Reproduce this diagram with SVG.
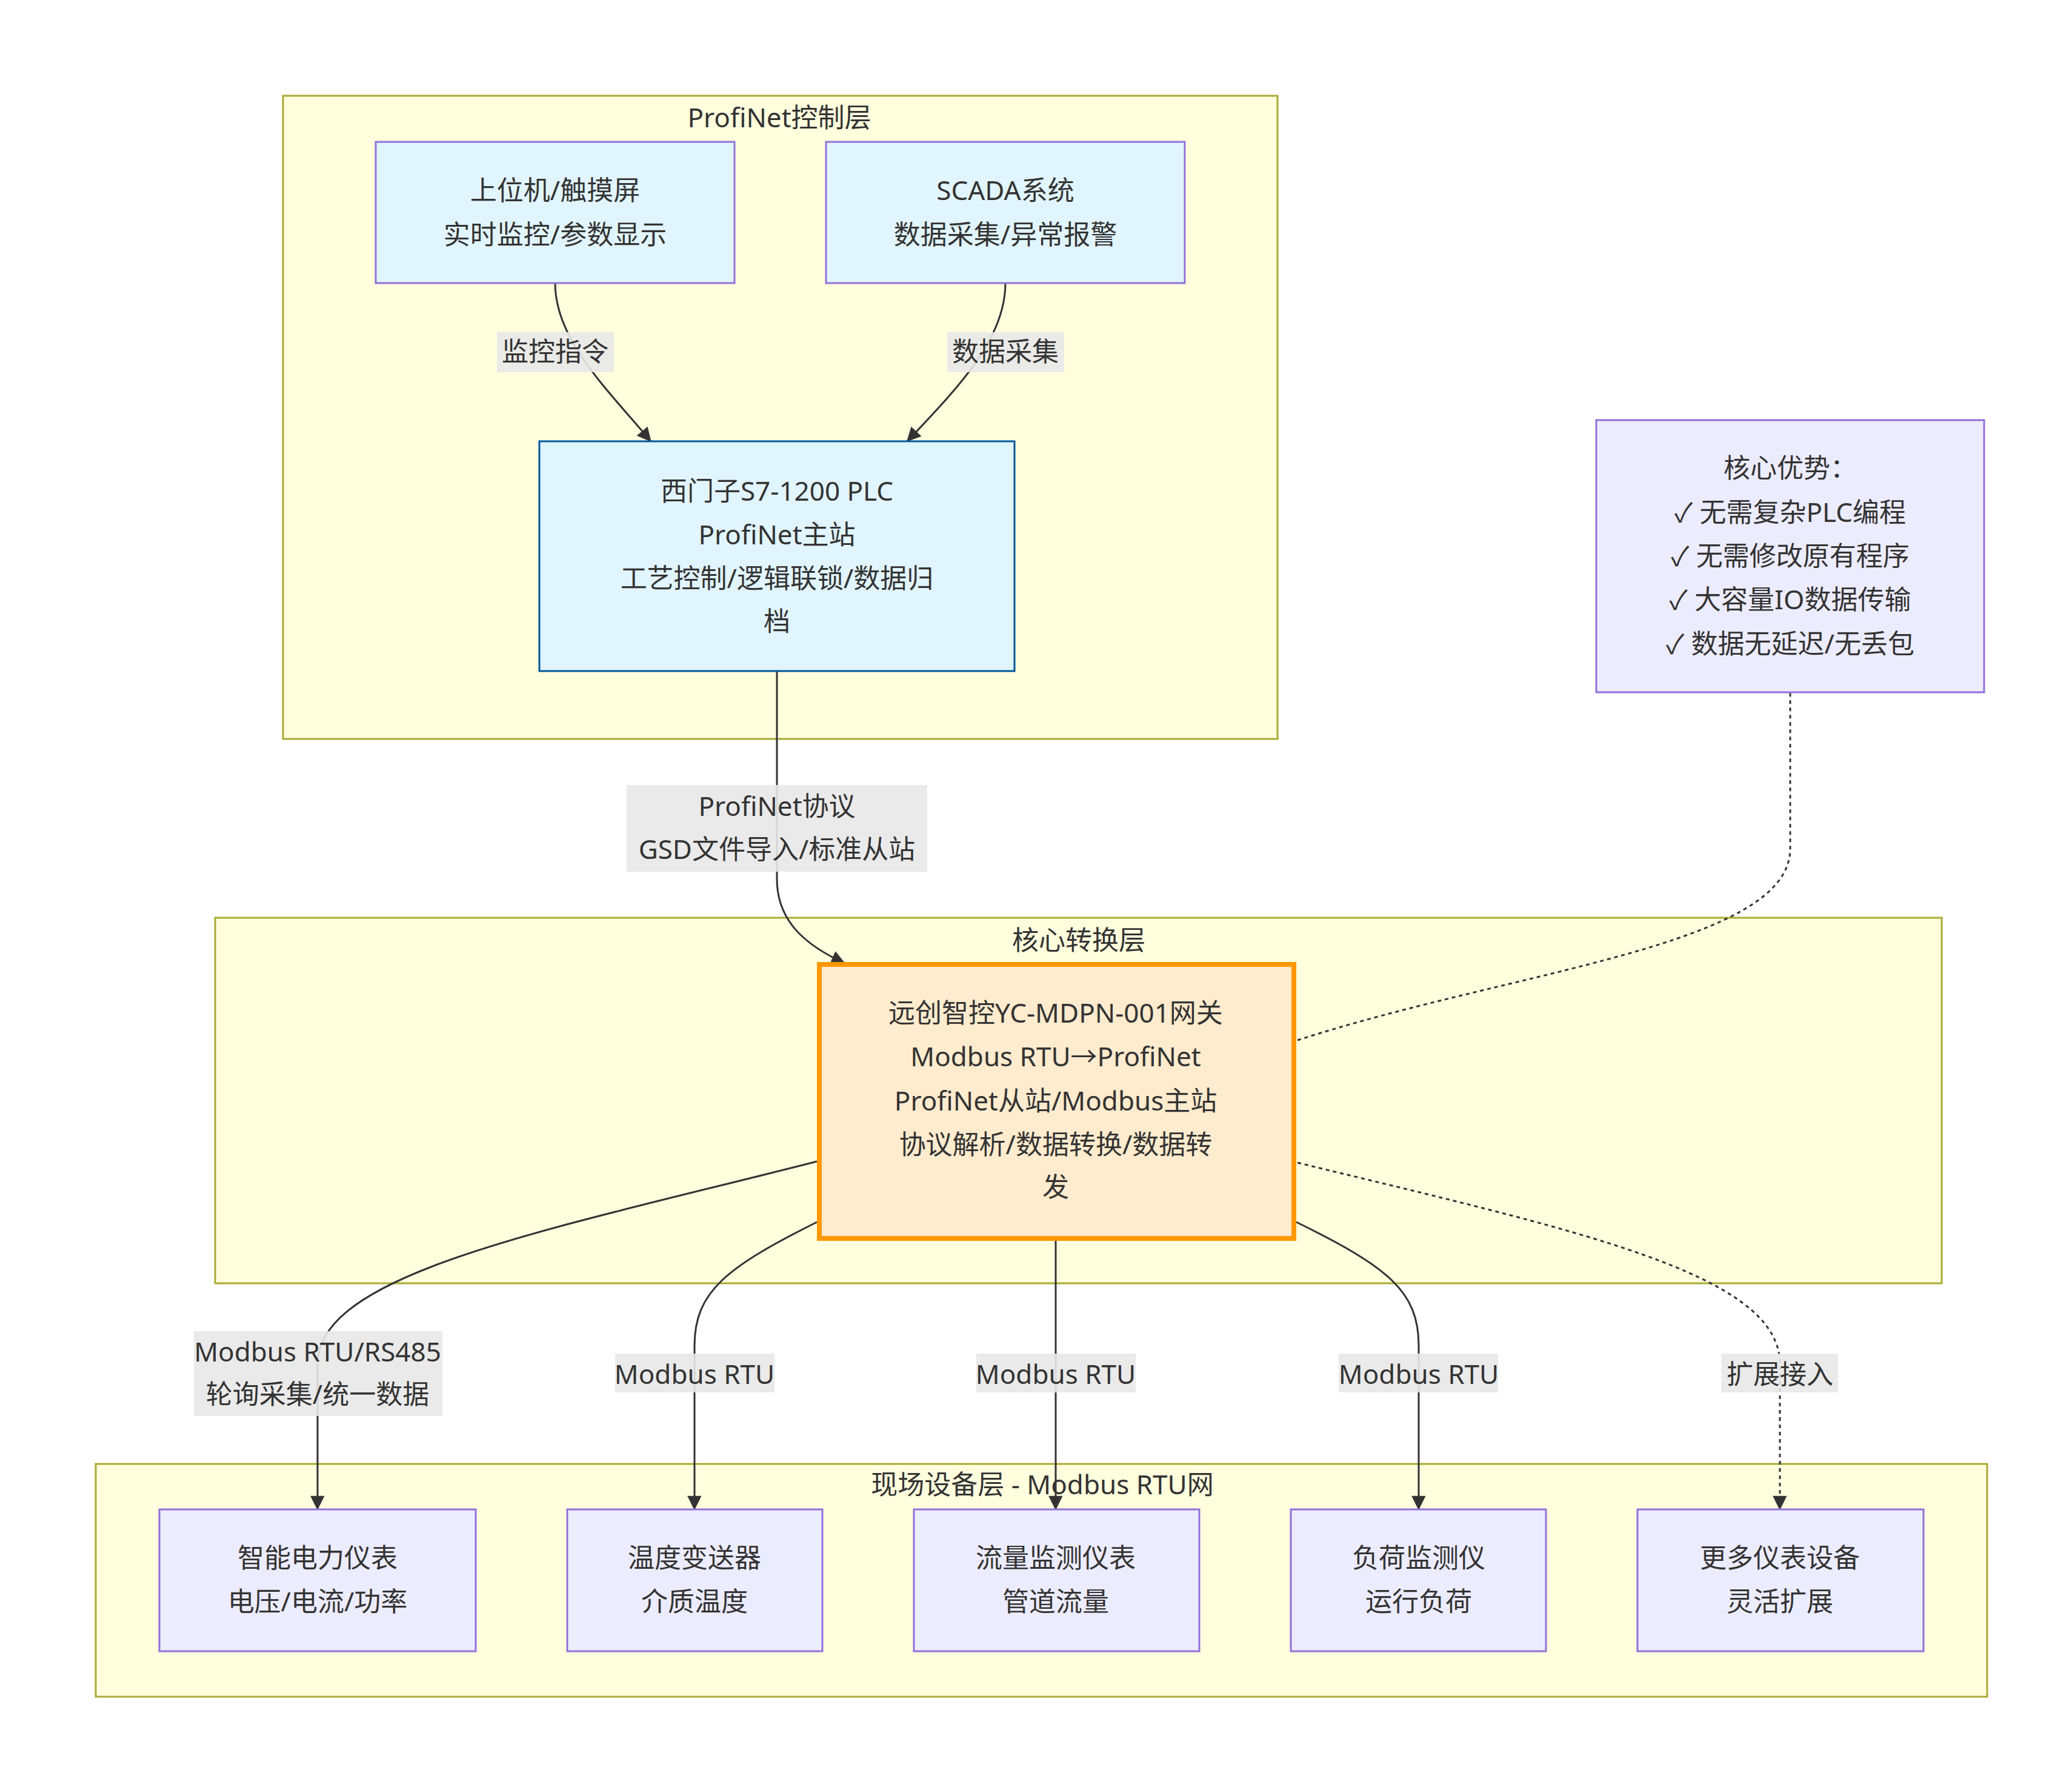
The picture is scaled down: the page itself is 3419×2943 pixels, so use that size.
<svg xmlns="http://www.w3.org/2000/svg" width="3419" height="2943" viewBox="0 0 3419 2943">
<style>
text{font-family:"Noto Sans","Noto Sans CJK SC",sans-serif;font-size:44px;fill:#333;text-anchor:middle;dominant-baseline:central}
.sg{fill:#ffffde;stroke:#aaaa33;stroke-width:3}
.n{fill:#ECECFF;stroke:#9370DB;stroke-width:3}
.b{fill:#E1F5FE;stroke:#9370DB;stroke-width:3}
.e{fill:none;stroke:#333;stroke-width:3}
.d{fill:none;stroke:#333;stroke-width:3;stroke-dasharray:6 6}
.lb{fill:#e8e8e8;opacity:0.9}
</style>
<defs><marker id="a" viewBox="0 0 10 10" refX="9" refY="5" markerWidth="9" markerHeight="9" markerUnits="userSpaceOnUse" orient="auto" style="overflow:visible"><path d="M0,0L10,5L0,10z" fill="#333" transform="scale(2.6) translate(-6,-3)"/></marker></defs>
<g id="layer-profinet"><rect class="sg" x="467" y="158" width="1641" height="1061"/><text x="1286" y="193">ProfiNet控制层</text></g>
<g id="layer-core"><rect class="sg" x="355" y="1514" width="2849" height="603"/><text x="1780" y="1550">核心转换层</text></g>
<g id="layer-field"><rect class="sg" x="158" y="2415" width="3121" height="384"/><text x="1720" y="2448">现场设备层 - Modbus RTU网</text></g>
<g id="connectors">
<path class="e" d="M916,467 C916,560 1000,640 1074,728" marker-end="url(#a)"/>
<path class="e" d="M1659,467 C1659,560 1580,640 1497,728" marker-end="url(#a)"/>
<path class="e" d="M1282,1107 L1282,1450 C1282,1520 1330,1560 1394,1589" marker-end="url(#a)"/>
<path class="d" d="M2141,1716 C2500,1600 2954,1560 2954,1400 L2954,1142"/>
<path class="e" d="M1348,1916 C900,2030 524,2100 524,2250 L524,2490" marker-end="url(#a)"/>
<path class="e" d="M1348,2016 C1200,2090 1146,2130 1146,2220 L1146,2490" marker-end="url(#a)"/>
<path class="e" d="M1742,2043 L1742,2490" marker-end="url(#a)"/>
<path class="e" d="M2139,2016 C2290,2090 2341,2130 2341,2220 L2341,2490" marker-end="url(#a)"/>
<path class="d" d="M2141,1918 C2600,2030 2937,2100 2937,2250 L2937,2490" marker-end="url(#a)"/>
<rect class="lb" x="820" y="548" width="193" height="66"/><text x="916" y="579">监控指令</text>
<rect class="lb" x="1563" y="548" width="193" height="66"/><text x="1659" y="579">数据采集</text>
<rect class="lb" x="1034" y="1295" width="496" height="143"/><text x="1282" y="1329">ProfiNet协议</text><text x="1282" y="1400">GSD文件导入/标准从站</text>
<rect class="lb" x="320" y="2196" width="410" height="140"/><text x="524" y="2229">Modbus RTU/RS485</text><text x="524" y="2299">轮询采集/统一数据</text>
<rect class="lb" x="1015" y="2233" width="263" height="64"/><text x="1146" y="2266">Modbus RTU</text>
<rect class="lb" x="1611" y="2233" width="263" height="64"/><text x="1742" y="2266">Modbus RTU</text>
<rect class="lb" x="2209" y="2233" width="263" height="64"/><text x="2341" y="2266">Modbus RTU</text>
<rect class="lb" x="2840" y="2233" width="193" height="64"/><text x="2937" y="2266">扩展接入</text>
</g>
<g id="hmi"><rect class="b" x="620" y="234" width="592" height="233"/><text x="916" y="313">上位机/触摸屏</text><text x="916" y="386">实时监控/参数显示</text></g>
<g id="scada"><rect class="b" x="1363" y="234" width="592" height="233"/><text x="1659" y="313">SCADA系统</text><text x="1659" y="386">数据采集/异常报警</text></g>
<g id="plc"><rect x="890" y="728" width="784" height="379" fill="#E1F5FE" stroke="#01579B" stroke-width="3"/><text x="1282" y="809">西门子S7-1200 PLC</text><text x="1282" y="881">ProfiNet主站</text><text x="1282" y="953">工艺控制/逻辑联锁/数据归</text><text x="1282" y="1024">档</text></g>
<g id="adv"><rect class="n" x="2634" y="693" width="640" height="449"/><text x="2954" y="771">核心优势：</text><text x="2954" y="844">✓ 无需复杂PLC编程</text><text x="2954" y="916">✓ 无需修改原有程序</text><text x="2954" y="988">✓ 大容量IO数据传输</text><text x="2954" y="1061">✓ 数据无延迟/无丢包</text></g>
<g id="gateway"><rect x="1352" y="1591" width="783" height="452" fill="#FFEBCD" stroke="#FF9800" stroke-width="8"/><text x="1742" y="1670">远创智控YC-MDPN-001网关</text><text x="1742" y="1742">Modbus RTU→ProfiNet</text><text x="1742" y="1815">ProfiNet从站/Modbus主站</text><text x="1742" y="1887">协议解析/数据转换/数据转</text><text x="1742" y="1957">发</text></g>
<g id="d1"><rect class="n" x="263" y="2490" width="522" height="234"/><text x="524" y="2569">智能电力仪表</text><text x="524" y="2641">电压/电流/功率</text></g>
<g id="d2"><rect class="n" x="936" y="2490" width="421" height="234"/><text x="1146" y="2569">温度变送器</text><text x="1146" y="2641">介质温度</text></g>
<g id="d3"><rect class="n" x="1508" y="2490" width="471" height="234"/><text x="1742" y="2569">流量监测仪表</text><text x="1742" y="2641">管道流量</text></g>
<g id="d4"><rect class="n" x="2130" y="2490" width="421" height="234"/><text x="2341" y="2569">负荷监测仪</text><text x="2341" y="2641">运行负荷</text></g>
<g id="d5"><rect class="n" x="2702" y="2490" width="472" height="234"/><text x="2937" y="2569">更多仪表设备</text><text x="2937" y="2641">灵活扩展</text></g>
</svg>
